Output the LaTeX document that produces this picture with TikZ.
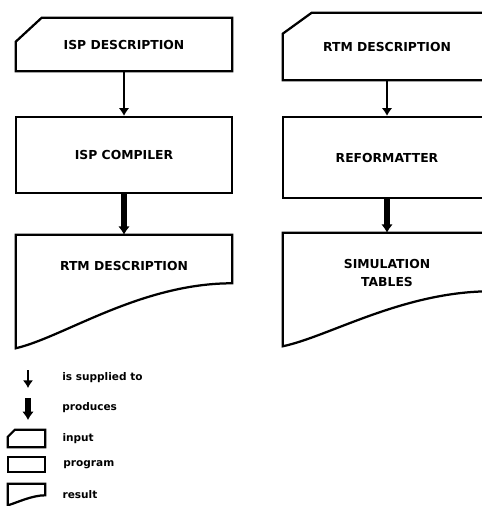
\documentclass[tikz,border=0pt]{standalone}
\usepackage{fontspec}
\setmainfont{DejaVu Sans}
\usetikzlibrary{arrows.meta, positioning}

\begin{document}
\begin{tikzpicture}[font=\fontsize{8.8}{12.8}\selectfont\bfseries,
    box/.style={draw, line width=1.6pt},
    shapebox/.style={rectangle, inner sep=0pt},
    progbox/.style={box, rectangle, inner sep=0pt},
    supplied/.style={-{Latex[length=5.5pt,width=7.5pt]}, line width=1.2pt},
    produces/.style={-{Latex[length=6pt,width=8.5pt]}, line width=3.6pt},
    legtxt/.style={inner sep=0pt, anchor=west, font=\fontsize{7.5}{9}\selectfont\bfseries}]
  \clip (0,0) rectangle (12.05,-12.65);

  % --- columna izquierda: ISP ---
  \node[shapebox, minimum width=5.4cm, minimum height=1.325cm] (ispin) at (3.1,-1.1125) {ISP DESCRIPTION};
  \draw[box] ([yshift=-0.6cm]ispin.north west) -- ([xshift=0.65cm]ispin.north west)
    -- (ispin.north east) -- (ispin.south east) -- (ispin.south west) -- cycle;
  \node[progbox, minimum width=5.4cm, minimum height=1.9cm] (ispcomp) at (3.1,-3.875) {ISP COMPILER};
  \node[shapebox, minimum width=5.4cm, minimum height=2.825cm] (rtmout) at (3.1,-7.2875) {};
  \node[below=0.54cm of rtmout.north] (rtmtxt) {RTM DESCRIPTION};
  \draw[box] (rtmout.north west) -- (rtmout.north east) -- ([yshift=1.625cm]rtmout.south east)
    .. controls +(-2.3,0) and +(1.2,0.28) .. (rtmout.south west) -- cycle;
  \draw[supplied] (ispin) -- (ispcomp);
  \draw[produces] (ispcomp) -- (rtmout);

  % --- columna derecha: RTM ---
  \node[shapebox, minimum width=5.2cm, minimum height=1.675cm] (rtmin) at (9.675,-1.1625) {RTM DESCRIPTION};
  \draw[box] ([yshift=-0.525cm]rtmin.north west) -- ([xshift=0.725cm]rtmin.north west)
    -- (rtmin.north east) -- (rtmin.south east) -- (rtmin.south west) -- cycle;
  \node[progbox, minimum width=5.2cm, minimum height=2.025cm] (reform) at (9.675,-3.9375) {REFORMATTER};
  \node[shapebox, minimum width=5.2cm, minimum height=2.825cm] (simout) at (9.675,-7.2375) {};
  \node[below=0.54cm of simout.north, align=center] (simtxt) {SIMULATION\\TABLES};
  \draw[box] (simout.north west) -- (simout.north east) -- ([yshift=1.375cm]simout.south east)
    .. controls +(-2.2,0) and +(1.15,0.24) .. (simout.south west) -- cycle;
  \draw[supplied] (rtmin) -- (reform);
  \draw[produces] (reform) -- (simout);

  % --- leyenda ---
  \coordinate (sa) at (0.7,-9.25);
  \coordinate (sb) at (0.7,-9.7);
  \draw[supplied] (sa) -- (sb);
  \node[legtxt] (suptxt) at (1.55,-9.45) {is supplied to};
  \coordinate (pa) at (0.7,-9.95);
  \coordinate (pb) at (0.7,-10.5);
  \draw[produces] (pa) -- (pb);
  \node[legtxt] (prodtxt) at (1.55,-10.2) {produces};

  \node[shapebox, minimum width=0.925cm, minimum height=0.425cm] (inicon) at (0.6625,-10.9625) {};
  \draw[box] ([yshift=-0.18cm]inicon.north west) -- ([xshift=0.18cm]inicon.north west)
    -- (inicon.north east) -- (inicon.south east) -- (inicon.south west) -- cycle;
  \node[legtxt, right=0.425cm of inicon] (intxt) {input};
  \node[progbox, minimum width=0.925cm, minimum height=0.375cm] (progicon) at (0.6625,-11.6125) {};
  \node[legtxt, right=0.425cm of progicon] (progtxt) {program};
  \node[shapebox, minimum width=0.925cm, minimum height=0.525cm] (resicon) at (0.6625,-12.3625) {};
  \draw[box] (resicon.north west) -- (resicon.north east) -- ([yshift=0.25cm]resicon.south east)
    .. controls +(-0.35,0) and +(0.2,0.05) .. (resicon.south west) -- cycle;
  \node[legtxt, right=0.425cm of resicon] (restxt) {result};
\end{tikzpicture}
\end{document}
